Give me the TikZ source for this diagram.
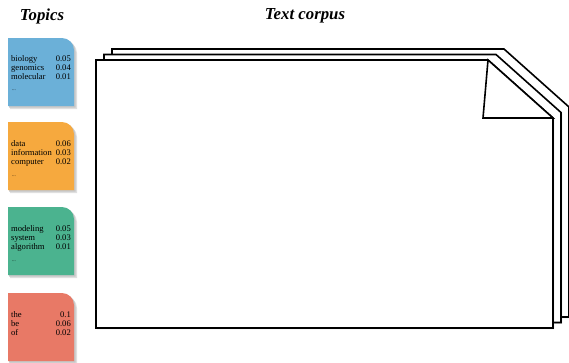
\documentclass[tikz,border=0pt]{standalone}
\usepackage{fontspec}
\setmainfont{Liberation Serif}
\usetikzlibrary{calc, shadows}
\definecolor{topicblue}{HTML}{6BB0D8}
\definecolor{topicorange}{HTML}{F6A93E}
\definecolor{topicgreen}{HTML}{4BB38F}
\definecolor{topicred}{HTML}{E87966}

\tikzset{
  pageline/.style={draw=black, line width=1.6pt, fill=white, line join=miter},
  word/.style={anchor=base west, inner sep=0pt, font=\fontsize{8.6}{9}\selectfont},
  prob/.style={anchor=base east, inner sep=0pt, font=\fontsize{8.6}{9}\selectfont},
  dots/.style={anchor=base west, inner sep=0pt, font=\fontsize{5}{5}\selectfont},
  heading/.style={inner sep=0pt, font=\fontsize{16.8}{18}\selectfont\bfseries\itshape},
}

\begin{document}
\begin{tikzpicture}[x=1pt, y=-1pt]
    \useasboundingbox (0,0) rectangle (569,362);
    % Headings
    \node[heading] (topics) at (42,16) {Topics};
    \node[heading] (corpus) at (305,16) {Text corpus};
    % Topic cards (top-right corner rounded, soft shadow)
    \foreach \cy/\cc in {38/topicblue, 122/topicorange, 207/topicgreen, 293/topicred} {
      \begin{scope}[shift={(0,\cy)}]
        \fill[gray!25] (10,3) -- (10,71) -- (77,71) -- (77,15) .. controls (77,8.4) and (71.6,3) .. (65,3) -- cycle;
        \fill[gray!45] (9,1.5) -- (9,69.5) -- (75.5,69.5) -- (75.5,13.5) .. controls (75.5,6.9) and (70.1,1.5) .. (63.5,1.5) -- cycle;
        \fill[\cc] (8,0) -- (8,68) -- (74,68) -- (74,12) .. controls (74,5.4) and (68.6,0) .. (62,0) -- cycle;
      \end{scope}
    }
    % Word probabilities per topic
    \foreach \w/\p [count=\i] in {biology/0.05, genomics/0.04, molecular/0.01} {
      \node[word] (bio-w\i) at (11,{52+9*\i}) {\w};
      \node[prob] (bio-p\i) at (71,{52+9*\i}) {\p};
    }
    \foreach \w/\p [count=\i] in {data/0.06, information/0.03, computer/0.02} {
      \node[word] (data-w\i) at (11,{137+9*\i}) {\w};
      \node[prob] (data-p\i) at (71,{137+9*\i}) {\p};
    }
    \foreach \w/\p [count=\i] in {modeling/0.05, system/0.03, algorithm/0.01} {
      \node[word] (model-w\i) at (11,{222+9*\i}) {\w};
      \node[prob] (model-p\i) at (71,{222+9*\i}) {\p};
    }
    \foreach \w/\p [count=\i] in {the/0.1, be/0.06, of/0.02} {
      \node[word] (stop-w\i) at (11,{308+9*\i}) {\w};
      \node[prob] (stop-p\i) at (71,{308+9*\i}) {\p};
    }
    \node[dots] (bio-more) at (12,90) {...};
    \node[dots] (data-more) at (12,176) {...};
    \node[dots] (model-more) at (12,261) {...};
    % Stacked documents (back to front)
    \foreach \dx/\dy in {16/-11, 8/-5.5, 0/0} {
      \draw[pageline, shift={(\dx,\dy)}, drop shadow={shadow xshift=1.2pt, shadow yshift=-1.2pt, fill=gray, opacity=.5}]
        (96,60) -- (488,60) -- (553,118) -- (553,328) -- (96,328) -- cycle;
    }
    % Folded corner of the front page
    \draw[pageline] (488,60) -- (483,118) -- (553,118) -- cycle;
\end{tikzpicture}
\end{document}
